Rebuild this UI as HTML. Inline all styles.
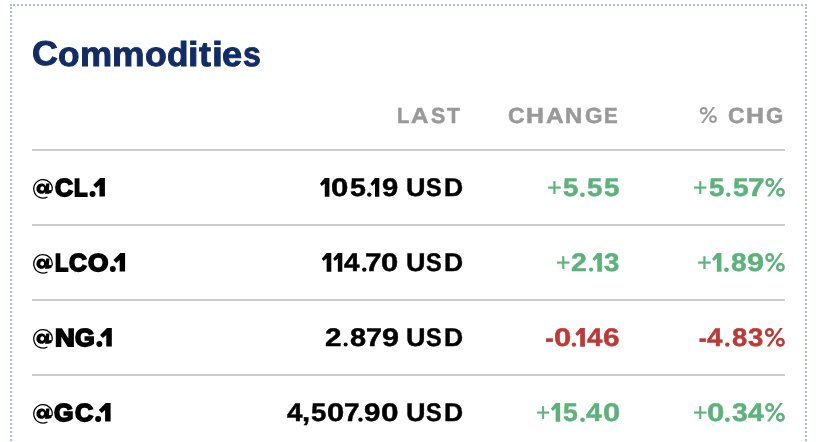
<!DOCTYPE html>
<html lang="en"><head><meta charset="utf-8"><title>Commodities</title><style>
html,body{margin:0;padding:0;background:#fff;width:822px;height:442px;overflow:hidden}
body{font-family:"Liberation Sans",sans-serif;position:relative}
.wrap{position:absolute;left:0;top:0;width:822px;height:442px;overflow:hidden;will-change:transform;background:#fff;text-rendering:geometricPrecision}
.box{position:absolute;left:10px;top:4px;width:797px;height:520px;border:2px dotted #afbbcc;box-sizing:border-box}
.t{position:absolute;white-space:nowrap;font-weight:bold;line-height:1}
.title{font-size:34.5px;color:#122c66;-webkit-text-stroke:0.9px #122c66}
.h{font-size:21.9px;color:#999;-webkit-text-stroke:0.5px #999}
.rule{position:absolute;left:32px;width:753px;height:2px;background:#ccc}
.row{position:absolute;left:0;width:822px;height:30px;line-height:1;font-weight:bold;white-space:pre}
.row b{position:absolute;top:0;font-weight:bold;transform-origin:0 0}
.row b.rg{font-weight:normal}
.sym{font-size:24.4px;color:#000;-webkit-text-stroke:1.8px #000}
.v{font-size:25.4px;color:#000;-webkit-text-stroke:0.45px #000}
.v b.rg{-webkit-text-stroke-width:0.3px}
.g{color:#5bb27a;-webkit-text-stroke-color:#5bb27a}.r{color:#be3835;-webkit-text-stroke-color:#be3835}
svg{fill:currentColor;overflow:visible;stroke-width:0}
svg.at{vertical-align:-2.7px}
svg.one{vertical-align:-0.4px}
svg.pct{vertical-align:-0.4px}
svg.dot{vertical-align:-0.6px}
svg.hpct{vertical-align:1px}
svg.hy{vertical-align:4.1px}

</style></head><body><div class="wrap">
<div class="box"></div>
<div class="rule" style="top:149px"></div>
<div class="rule" style="top:224px"></div>
<div class="rule" style="top:299px"></div>
<div class="rule" style="top:374px"></div>
<h2 class="row title" aria-label="Commodities" style="top:37.88px;margin:0"><b style="top:-1px;left:32.00px;transform:scaleX(1.0402)">C</b><b style="left:57.98px;transform:scaleX(1.0219)">o</b><b style="left:79.59px;transform:scaleX(1.0492)">m</b><b style="left:112.27px;transform:scaleX(1.0603)">m</b><b style="left:145.07px;transform:scaleX(1.0322)">o</b><b style="left:166.72px;transform:scaleX(1.0172)">d</b><b style="left:188.34px;transform:scaleX(1.1005)">i</b><b style="left:199.03px;transform:scaleX(1.0393)">t</b><b style="left:211.57px;transform:scaleX(1.1360)">i</b><b style="left:222.26px;transform:scaleX(1.0478)">e</b><b style="left:242.79px;transform:scaleX(0.9279)">s</b></h2>
<div class="row h" aria-label="LAST" style="top:105.35px"><b style="left:397.09px;transform:scaleX(0.9115)">L</b><b style="left:411.47px;transform:scaleX(1.1058)">A</b><b style="left:430.63px;transform:scaleX(0.9765)">S</b><b style="left:447.00px;transform:scaleX(0.9704)">T</b></div>
<div class="row h" aria-label="CHANGE" style="top:105.35px"><b style="left:507.52px;transform:scaleX(1.0460)">C</b><b style="left:526.22px;transform:scaleX(1.1365)">H</b><b style="left:545.57px;transform:scaleX(1.1190)">A</b><b style="left:564.87px;transform:scaleX(1.0916)">N</b><b style="left:584.53px;transform:scaleX(1.0276)">G</b><b style="left:603.76px;transform:scaleX(0.9385)">E</b></div>
<div class="row h" aria-label="% CHG" style="top:105.35px"><b style="left:699px"><svg class="hpct" width="19" height="16.1" viewBox="0 0 19 16.1"><g transform="translate(0.900,0.900) scale(1.0000,1)"><circle cx="3.75" cy="3.85" r="2.85" fill="none" stroke="currentColor" stroke-width="2.0"/><circle cx="13.1" cy="12.2" r="2.85" fill="none" stroke="currentColor" stroke-width="2.0"/><path d="M12.9 0H15.2L3.5 16.1H1.2Z"/></g></svg></b><b style="left:727.82px;transform:scaleX(1.0460)">C</b><b style="left:746.22px;transform:scaleX(1.1365)">H</b><b style="left:766.14px;transform:scaleX(1.0145)">G</b></div>
<div class="row sym" aria-label="@CL.1" style="top:177.08px"><b style="left:33px"><svg class="at" width="21" height="19.7" viewBox="0 0 21 19.7"><g transform="translate(-2.000,-2.900) scale(1.0000,1)"><path d="M21.09 14.45A9.25 9.25 0 1 0 16.45 20.86" fill="none" stroke="currentColor" stroke-width="1.3"/><ellipse cx="10.4" cy="12.5" rx="5.0" ry="5.2" transform="rotate(12 10.4 12.5)"/><path d="M15.2 7.3H18.5L17.5 17.6H14.0Z"/><path d="M17.2 14.2L21.2 13.9L20.3 16.8L16.9 17.6Z"/><ellipse cx="11.2" cy="12.4" rx="1.9" ry="2.25" transform="rotate(20 11.2 12.4)" fill="#fff"/></g></svg></b><b style="left:54.70px;transform:scaleX(1.0196)">C</b><b style="left:74.24px;transform:scaleX(0.9077)">L</b><b style="left:89px"><svg class="d1" width="17" height="18.5" viewBox="0 0 17 18.5"><g transform="translate(0.600,0.000) scale(0.9935,1)"><circle cx="2.95" cy="15.9" r="3.0"/><path d="M10.6 0H15.4V18.5H9.9V6.9L6.5 10.0L3.6 7.1Z"/></g></svg></b></div>
<div class="row v" aria-label="105.19 USD" style="top:175.97px"><b style="left:320px"><svg class="one" width="11" height="18.6" viewBox="0 0 11 18.6"><g transform="translate(0.000,0.100) scale(0.9792,1)"><path d="M4.9 0H9.6V18.6H4.9V5.4L1.75 7.95L0 5.6Z"/></g></svg></b><b style="left:331.14px;transform:scaleX(1.2291)">0</b><b style="left:349.58px;transform:scaleX(1.1232)">5</b><b style="left:367px"><svg class="dot" width="6" height="4.4" viewBox="0 0 6 4.4"><g transform="translate(0.100,0.400) scale(1.0000,1)"><circle cx="2.200" cy="2.200" r="2.200"/></g></svg></b><b style="left:370px"><svg class="one" width="11" height="18.6" viewBox="0 0 11 18.6"><g transform="translate(0.500,0.100) scale(0.9167,1)"><path d="M4.9 0H9.6V18.6H4.9V5.4L1.75 7.95L0 5.6Z"/></g></svg></b><b style="left:382.24px;transform:scaleX(1.1527)">9</b><b style="left:406.12px;transform:scaleX(1.0625)">U</b><b style="left:426.43px;transform:scaleX(0.9255)">S</b><b style="left:443.66px;transform:scaleX(1.0420)">D</b></div>
<div class="row v g" aria-label="+5.55" style="top:175.97px"><b class="rg" style="left:547.01px;transform:scaleX(0.9968)">+</b><b style="left:562.60px;transform:scaleX(1.0850)">5</b><b style="left:580px"><svg class="dot" width="6" height="4.7" viewBox="0 0 6 4.7"><g transform="translate(0.100,0.400) scale(1.0000,1)"><circle cx="2.350" cy="2.350" r="2.350"/></g></svg></b><b style="left:587.19px;transform:scaleX(1.0926)">5</b><b style="left:603.79px;transform:scaleX(1.0926)">5</b></div>
<div class="row v g" aria-label="+5.57%" style="top:175.97px"><b class="rg" style="left:693.34px;transform:scaleX(0.9731)">+</b><b style="left:708.60px;transform:scaleX(1.0850)">5</b><b style="left:726px"><svg class="dot" width="6" height="4.4" viewBox="0 0 6 4.4"><g transform="translate(0.100,0.400) scale(1.0000,1)"><circle cx="2.200" cy="2.200" r="2.200"/></g></svg></b><b style="left:732.98px;transform:scaleX(1.1079)">5</b><b style="left:748.38px;transform:scaleX(1.1723)">7</b><b style="left:765px"><svg class="pct" width="21" height="18.6" viewBox="0 0 21 18.6"><g transform="translate(0.300,0.000) scale(0.9849,1)"><circle cx="4.6" cy="4.5" r="3.25" fill="none" stroke="currentColor" stroke-width="2.5"/><circle cx="15.4" cy="14.2" r="3.25" fill="none" stroke="currentColor" stroke-width="2.5"/><path d="M15.1 0H17.8L4.6 18.6H1.9Z"/></g></svg></b></div>
<div class="row sym" aria-label="@LCO.1" style="top:252.08px"><b style="left:33px"><svg class="at" width="21" height="19.7" viewBox="0 0 21 19.7"><g transform="translate(-2.000,-2.900) scale(1.0000,1)"><path d="M21.09 14.45A9.25 9.25 0 1 0 16.45 20.86" fill="none" stroke="currentColor" stroke-width="1.3"/><ellipse cx="10.4" cy="12.5" rx="5.0" ry="5.2" transform="rotate(12 10.4 12.5)"/><path d="M15.2 7.3H18.5L17.5 17.6H14.0Z"/><path d="M17.2 14.2L21.2 13.9L20.3 16.8L16.9 17.6Z"/><ellipse cx="11.2" cy="12.4" rx="1.9" ry="2.25" transform="rotate(20 11.2 12.4)" fill="#fff"/></g></svg></b><b style="left:54.75px;transform:scaleX(0.8868)">L</b><b style="left:68.90px;transform:scaleX(1.0139)">C</b><b style="left:88.29px;transform:scaleX(1.0718)">O</b><b style="left:109px"><svg class="d1" width="18" height="18.5" viewBox="0 0 18 18.5"><g transform="translate(0.900,0.000) scale(0.9870,1)"><circle cx="2.95" cy="15.9" r="3.0"/><path d="M10.6 0H15.4V18.5H9.9V6.9L6.5 10.0L3.6 7.1Z"/></g></svg></b></div>
<div class="row v" aria-label="114.70 USD" style="top:250.97px"><b style="left:321px"><svg class="one" width="12" height="18.6" viewBox="0 0 12 18.6"><g transform="translate(0.800,0.100) scale(0.9896,1)"><path d="M4.9 0H9.6V18.6H4.9V5.4L1.75 7.95L0 5.6Z"/></g></svg></b><b style="left:333px"><svg class="one" width="11" height="18.6" viewBox="0 0 11 18.6"><g transform="translate(0.200,0.100) scale(0.9479,1)"><path d="M4.9 0H9.6V18.6H4.9V5.4L1.75 7.95L0 5.6Z"/></g></svg></b><b style="left:344.33px;transform:scaleX(1.0957)">4</b><b style="left:362px"><svg class="dot" width="6" height="4.4" viewBox="0 0 6 4.4"><g transform="translate(0.100,0.400) scale(1.0000,1)"><circle cx="2.200" cy="2.200" r="2.200"/></g></svg></b><b style="left:365.48px;transform:scaleX(1.1723)">7</b><b style="left:381.45px;transform:scaleX(1.2211)">0</b><b style="left:406.12px;transform:scaleX(1.0625)">U</b><b style="left:426.43px;transform:scaleX(0.9255)">S</b><b style="left:443.66px;transform:scaleX(1.0420)">D</b></div>
<div class="row v g" aria-label="+2.13" style="top:250.97px"><b class="rg" style="left:556.34px;transform:scaleX(0.9731)">+</b><b style="left:571.17px;transform:scaleX(1.1200)">2</b><b style="left:588px"><svg class="dot" width="7" height="4.3" viewBox="0 0 7 4.3"><g transform="translate(0.900,0.400) scale(1.0000,1)"><circle cx="2.150" cy="2.150" r="2.150"/></g></svg></b><b style="left:592px"><svg class="one" width="11" height="18.6" viewBox="0 0 11 18.6"><g transform="translate(0.500,0.100) scale(0.9792,1)"><path d="M4.9 0H9.6V18.6H4.9V5.4L1.75 7.95L0 5.6Z"/></g></svg></b><b style="left:604.01px;transform:scaleX(1.0860)">3</b></div>
<div class="row v g" aria-label="+1.89%" style="top:250.97px"><b class="rg" style="left:697.01px;transform:scaleX(0.9968)">+</b><b style="left:712px"><svg class="one" width="11" height="18.6" viewBox="0 0 11 18.6"><g transform="translate(0.100,0.100) scale(0.9687,1)"><path d="M4.9 0H9.6V18.6H4.9V5.4L1.75 7.95L0 5.6Z"/></g></svg></b><b style="left:724px"><svg class="dot" width="6" height="4.7" viewBox="0 0 6 4.7"><g transform="translate(0.100,0.400) scale(1.0000,1)"><circle cx="2.350" cy="2.350" r="2.350"/></g></svg></b><b style="left:730.86px;transform:scaleX(1.1087)">8</b><b style="left:747.31px;transform:scaleX(1.2075)">9</b><b style="left:765px"><svg class="pct" width="21" height="18.6" viewBox="0 0 21 18.6"><g transform="translate(0.100,0.000) scale(0.9950,1)"><circle cx="4.6" cy="4.5" r="3.25" fill="none" stroke="currentColor" stroke-width="2.5"/><circle cx="15.4" cy="14.2" r="3.25" fill="none" stroke="currentColor" stroke-width="2.5"/><path d="M15.1 0H17.8L4.6 18.6H1.9Z"/></g></svg></b></div>
<div class="row sym" aria-label="@NG.1" style="top:327.08px"><b style="left:33px"><svg class="at" width="21" height="19.7" viewBox="0 0 21 19.7"><g transform="translate(-2.000,-2.900) scale(1.0000,1)"><path d="M21.09 14.45A9.25 9.25 0 1 0 16.45 20.86" fill="none" stroke="currentColor" stroke-width="1.3"/><ellipse cx="10.4" cy="12.5" rx="5.0" ry="5.2" transform="rotate(12 10.4 12.5)"/><path d="M15.2 7.3H18.5L17.5 17.6H14.0Z"/><path d="M17.2 14.2L21.2 13.9L20.3 16.8L16.9 17.6Z"/><ellipse cx="11.2" cy="12.4" rx="1.9" ry="2.25" transform="rotate(20 11.2 12.4)" fill="#fff"/></g></svg></b><b style="left:54.58px;transform:scaleX(1.1211)">N</b><b style="left:75.40px;transform:scaleX(1.0348)">G</b><b style="left:96px"><svg class="d1" width="17" height="18.5" viewBox="0 0 17 18.5"><g transform="translate(0.400,0.000) scale(1.0000,1)"><circle cx="2.95" cy="15.9" r="3.0"/><path d="M10.6 0H15.4V18.5H9.9V6.9L6.5 10.0L3.6 7.1Z"/></g></svg></b></div>
<div class="row v" aria-label="2.879 USD" style="top:325.97px"><b style="left:325.33px;transform:scaleX(1.1673)">2</b><b style="left:343px"><svg class="dot" width="6" height="4.1" viewBox="0 0 6 4.1"><g transform="translate(0.600,0.400) scale(1.0000,1)"><circle cx="2.050" cy="2.050" r="2.050"/></g></svg></b><b style="left:349.54px;transform:scaleX(1.1394)">8</b><b style="left:366.22px;transform:scaleX(1.1319)">7</b><b style="left:381.71px;transform:scaleX(1.2075)">9</b><b style="left:406.12px;transform:scaleX(1.0625)">U</b><b style="left:426.43px;transform:scaleX(0.9255)">S</b><b style="left:443.66px;transform:scaleX(1.0420)">D</b></div>
<div class="row v r" aria-label="-0.146" style="top:325.97px"><b style="left:546px"><svg class="hy" width="8" height="3.6" viewBox="0 0 8 3.6"><g transform="translate(0.000,0.300) scale(6.9000,1)"><rect width="1" height="3.6"/></g></svg></b><b style="left:553.55px;transform:scaleX(1.2211)">0</b><b style="left:571px"><svg class="dot" width="7" height="4.4" viewBox="0 0 7 4.4"><g transform="translate(0.700,0.400) scale(1.0000,1)"><circle cx="2.200" cy="2.200" r="2.200"/></g></svg></b><b style="left:575px"><svg class="one" width="11" height="18.6" viewBox="0 0 11 18.6"><g transform="translate(0.300,0.100) scale(1.0000,1)"><path d="M4.9 0H9.6V18.6H4.9V5.4L1.75 7.95L0 5.6Z"/></g></svg></b><b style="left:586.63px;transform:scaleX(1.0886)">4</b><b style="left:603.17px;transform:scaleX(1.1706)">6</b></div>
<div class="row v r" aria-label="-4.83%" style="top:325.97px"><b style="left:699px"><svg class="hy" width="8" height="3.6" viewBox="0 0 8 3.6"><g transform="translate(0.400,0.300) scale(6.5000,1)"><rect width="1" height="3.6"/></g></svg></b><b style="left:707.43px;transform:scaleX(1.0886)">4</b><b style="left:725px"><svg class="dot" width="6" height="4.4" viewBox="0 0 6 4.4"><g transform="translate(0.100,0.400) scale(1.0000,1)"><circle cx="2.200" cy="2.200" r="2.200"/></g></svg></b><b style="left:731.57px;transform:scaleX(1.0779)">8</b><b style="left:748.31px;transform:scaleX(1.0860)">3</b><b style="left:764px"><svg class="pct" width="22" height="18.6" viewBox="0 0 22 18.6"><g transform="translate(0.800,0.000) scale(1.0101,1)"><circle cx="4.6" cy="4.5" r="3.25" fill="none" stroke="currentColor" stroke-width="2.5"/><circle cx="15.4" cy="14.2" r="3.25" fill="none" stroke="currentColor" stroke-width="2.5"/><path d="M15.1 0H17.8L4.6 18.6H1.9Z"/></g></svg></b></div>
<div class="row sym" aria-label="@GC.1" style="top:402.08px"><b style="left:33px"><svg class="at" width="21" height="19.7" viewBox="0 0 21 19.7"><g transform="translate(-2.000,-2.900) scale(1.0000,1)"><path d="M21.09 14.45A9.25 9.25 0 1 0 16.45 20.86" fill="none" stroke="currentColor" stroke-width="1.3"/><ellipse cx="10.4" cy="12.5" rx="5.0" ry="5.2" transform="rotate(12 10.4 12.5)"/><path d="M15.2 7.3H18.5L17.5 17.6H14.0Z"/><path d="M17.2 14.2L21.2 13.9L20.3 16.8L16.9 17.6Z"/><ellipse cx="11.2" cy="12.4" rx="1.9" ry="2.25" transform="rotate(20 11.2 12.4)" fill="#fff"/></g></svg></b><b style="left:54.40px;transform:scaleX(1.0238)">G</b><b style="left:74.80px;transform:scaleX(1.0364)">C</b><b style="left:95px"><svg class="d1" width="17" height="18.5" viewBox="0 0 17 18.5"><g transform="translate(0.200,0.000) scale(1.0000,1)"><circle cx="2.95" cy="15.9" r="3.0"/><path d="M10.6 0H15.4V18.5H9.9V6.9L6.5 10.0L3.6 7.1Z"/></g></svg></b></div>
<div class="row v" aria-label="4,507.90 USD" style="top:400.97px"><b style="left:286.63px;transform:scaleX(1.0957)">4</b><b style="left:302.37px;transform:scaleX(1.1509)">,</b><b style="left:310.90px;transform:scaleX(1.0850)">5</b><b style="left:327.15px;transform:scaleX(1.2211)">0</b><b style="left:344.45px;transform:scaleX(1.0996)">7</b><b style="left:358px"><svg class="dot" width="6" height="4.4" viewBox="0 0 6 4.4"><g transform="translate(0.300,0.400) scale(1.0000,1)"><circle cx="2.200" cy="2.200" r="2.200"/></g></svg></b><b style="left:364.33px;transform:scaleX(1.1683)">9</b><b style="left:381.03px;transform:scaleX(1.2450)">0</b><b style="left:406.12px;transform:scaleX(1.0625)">U</b><b style="left:426.43px;transform:scaleX(0.9255)">S</b><b style="left:443.66px;transform:scaleX(1.0420)">D</b></div>
<div class="row v g" aria-label="+15.40" style="top:400.97px"><b class="rg" style="left:535.86px;transform:scaleX(0.9573)">+</b><b style="left:550px"><svg class="one" width="12" height="18.6" viewBox="0 0 12 18.6"><g transform="translate(0.900,0.100) scale(0.9688,1)"><path d="M4.9 0H9.6V18.6H4.9V5.4L1.75 7.95L0 5.6Z"/></g></svg></b><b style="left:562.62px;transform:scaleX(1.0468)">5</b><b style="left:580px"><svg class="dot" width="6" height="4.7" viewBox="0 0 6 4.7"><g transform="translate(0.200,0.400) scale(1.0000,1)"><circle cx="2.350" cy="2.350" r="2.350"/></g></svg></b><b style="left:586.02px;transform:scaleX(1.1099)">4</b><b style="left:602.55px;transform:scaleX(1.2211)">0</b></div>
<div class="row v g" aria-label="+0.34%" style="top:400.97px"><b class="rg" style="left:692.74px;transform:scaleX(0.9731)">+</b><b style="left:707.34px;transform:scaleX(1.2291)">0</b><b style="left:725px"><svg class="dot" width="6" height="4.7" viewBox="0 0 6 4.7"><g transform="translate(0.000,0.400) scale(1.0000,1)"><circle cx="2.350" cy="2.350" r="2.350"/></g></svg></b><b style="left:731.50px;transform:scaleX(1.1089)">3</b><b style="left:747.62px;transform:scaleX(1.1099)">4</b><b style="left:765px"><svg class="pct" width="21" height="18.6" viewBox="0 0 21 18.6"><g transform="translate(0.000,0.000) scale(1.0000,1)"><circle cx="4.6" cy="4.5" r="3.25" fill="none" stroke="currentColor" stroke-width="2.5"/><circle cx="15.4" cy="14.2" r="3.25" fill="none" stroke="currentColor" stroke-width="2.5"/><path d="M15.1 0H17.8L4.6 18.6H1.9Z"/></g></svg></b></div>
</div></body></html>
